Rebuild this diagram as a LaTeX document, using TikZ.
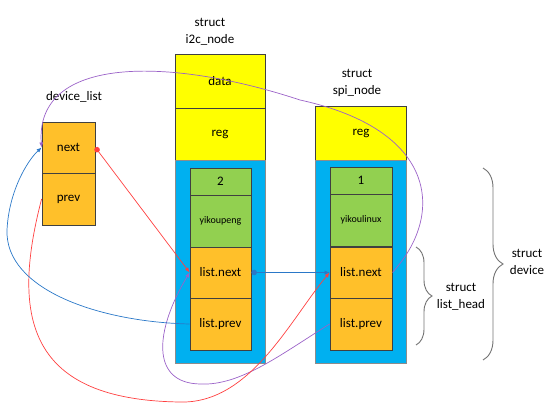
\documentclass[tikz,border=0pt]{standalone}
\usepackage{fontspec}
\setmainfont{Carlito}
\usetikzlibrary{arrows.meta,decorations.pathreplacing}
\definecolor{fillyellow}{HTML}{FFFF00}
\definecolor{fillblue}{HTML}{00B0F0}
\definecolor{fillgreen}{HTML}{92D050}
\definecolor{fillorange}{HTML}{FFC02A}
\definecolor{linered}{HTML}{FF4040}
\definecolor{lineblue}{HTML}{2A78C8}
\definecolor{linepurple}{HTML}{9B62C8}
\tikzstyle{cell}=[rectangle, draw=black!75, line width=0.8pt, inner sep=0pt, font=\fontsize{13}{14}\selectfont]
\tikzstyle{yellowbox}=[cell, fill=fillyellow, minimum width=90pt]
\tikzstyle{bluebox}=[cell, fill=fillblue, draw=black!45, minimum width=90pt, minimum height=203pt]
\tikzstyle{greenbox}=[cell, fill=fillgreen, minimum width=61pt]
\tikzstyle{orangebox}=[cell, fill=fillorange, minimum width=61pt, minimum height=51pt]
\tikzstyle{title}=[align=center, font=\fontsize{13}{17}\selectfont]
\tikzstyle{arrow}=[line width=0.7pt, -{Latex[length=5pt,width=4pt]}]
\tikzstyle{dotarrow}=[line width=0.7pt, {Circle[length=5.5pt]}-{Latex[length=5pt,width=4pt]}]
\tikzstyle{brace}=[decorate, draw=black!55, line width=0.9pt]

\begin{document}
\begin{tikzpicture}[x=1pt, y=-1pt]
		   \useasboundingbox (0,0) rectangle (557,409);
		   \begin{scope}
			   \node (t0) at (74, 97) [title] {device\_list};
			   \node (t1) at (210, 31.5) [title] {struct\\i2c\_node};
			   \node (t2) at (357, 82.5) [title] {struct\\spi\_node};

			   \node (next) at (68.5, 147.5) [orangebox, minimum width=53pt] {next};
			   \node (prev) at (68.5, 199) [orangebox, minimum width=53pt, minimum height=52pt] {prev};

			   \node (i2cdata) at (220, 81) [yellowbox, minimum height=54pt] {data};
			   \node (i2creg) at (220, 134) [yellowbox, minimum height=52pt] {reg};
			   \node (i2cbody) at (220, 261.5) [bluebox] {};
			   \node (i2cnum) at (220.5, 181.5) [greenbox, minimum height=27pt] {2};
			   \node (i2cname) at (220.5, 221) [greenbox, minimum height=52pt, font=\fontsize{10}{11}\selectfont] {yikoupeng};
			   \node (i2cnext) at (220.5, 272.5) [orangebox] {list.next};
			   \node (i2cprev) at (220.5, 324) [orangebox, minimum height=52pt] {list.prev};

			   \node (spireg) at (361, 133) [yellowbox, minimum width=91pt, minimum height=54pt] {reg};
			   \node (spibody) at (361, 261.5) [bluebox, minimum width=91pt] {};
			   \node (spinum) at (361, 180.5) [greenbox, minimum width=62pt, minimum height=27pt] {1};
			   \node (spiname) at (361, 220) [greenbox, minimum width=62pt, minimum height=52pt, font=\fontsize{10}{11}\selectfont] {yikoulinux};
			   \node (spinext) at (361, 272.5) [orangebox, minimum width=62pt] {list.next};
			   \node (spiprev) at (361, 324) [orangebox, minimum width=62pt, minimum height=52pt] {list.prev};

			   \node (t3) at (461, 296.5) [title] {struct\\list\_head};
			   \node (t4) at (527, 261.5) [title] {struct\\device};

			   \coordinate (h1) at (416, 247);
			   \coordinate (h2) at (416, 345);
			   \coordinate (d1) at (483, 168);
			   \coordinate (d2) at (483, 360);
		   \end{scope}
		   \begin{scope}
			   \draw [brace, decoration={brace, amplitude=16pt}] (h1) -- (h2);
			   \draw [brace, decoration={brace, amplitude=20pt}] (d1) -- (d2);

			   \draw [dotarrow, linered] (next.east) -- (i2cnext.west);
			   \draw [dotarrow, lineblue] (i2cnext.east) -- (spinext.west);

			   \draw [arrow, linepurple] (spinext.east) .. controls (445, 215) and (438, 130) .. (300, 100)
			         .. controls (170, 57) and (35, 55) .. (next.west);
			   \draw [arrow, linepurple] (spiprev.west) .. controls (280, 355) and (240, 386) .. (200, 384)
			         .. controls (150, 383) and (155, 330) .. (i2cnext.west);
			   \draw [arrow, linered] (prev.west) .. controls (10, 320) and (30, 400) .. (180, 402)
			         .. controls (250, 404) and (290, 320) .. (spinext.west);
			   \draw [arrow, lineblue] (i2cprev.west) .. controls (100, 322) and (5, 290) .. (7, 230)
			         .. controls (9, 190) and (28, 160) .. (next.west);
		   \end{scope}
\end{tikzpicture}
\end{document}
